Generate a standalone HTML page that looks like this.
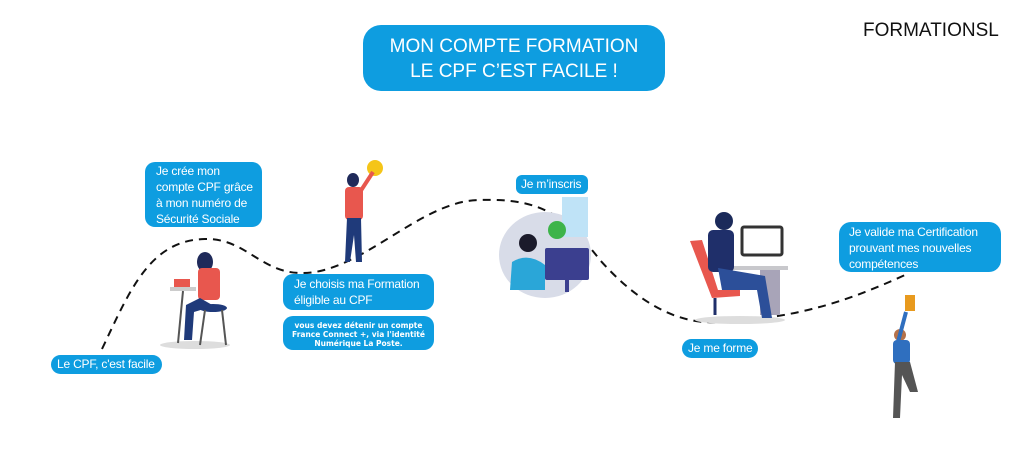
<!DOCTYPE html>
<html><head><meta charset="utf-8"><style>
body{margin:0;width:1024px;height:465px;background:#fff;position:relative;overflow:hidden;font-family:"Liberation Sans",sans-serif}
.b{position:absolute;background:#0e9de0;color:#fff;border-radius:10px;box-sizing:border-box;white-space:nowrap}
.t{font-size:12px;line-height:16px;letter-spacing:-0.2px}
</style></head><body>
<svg width="1024" height="465" style="position:absolute;left:0;top:0">
<path d="M102,349 C130,290 150,240 205,239 C245,238 260,272 300,273 C360,275 420,200 480,200 C540,198 565,215 600,260 C640,305 680,325 720,322 C800,318 850,300 905,275" fill="none" stroke="#111" stroke-width="2" stroke-dasharray="8,6"/>
<!-- woman at table -->
<ellipse cx="195" cy="345" rx="35" ry="4" fill="#ddd"/>
<rect x="170" y="287" width="26" height="4" fill="#ccc"/>
<rect x="174" y="279" width="16" height="8" fill="#e8574e"/>
<line x1="183" y1="291" x2="178" y2="343" stroke="#555" stroke-width="2"/>
<ellipse cx="213" cy="308" rx="14" ry="4" fill="#1f3a7a"/>
<line x1="205" y1="310" x2="200" y2="345" stroke="#555" stroke-width="2"/>
<line x1="222" y1="310" x2="226" y2="345" stroke="#555" stroke-width="2"/>
<ellipse cx="205" cy="262" rx="8" ry="10" fill="#1f2a5a"/>
<rect x="198" y="268" width="22" height="32" rx="4" fill="#e8574e"/>
<path d="M200,298 L186,305 L184,340 L192,340 L194,312 L214,306Z" fill="#1f3a7a"/>
<!-- woman with bulb -->
<circle cx="375" cy="168" r="8" fill="#f5c518"/>
<ellipse cx="353" cy="180" rx="6" ry="7" fill="#1f2a5a"/>
<rect x="345" y="187" width="18" height="33" rx="4" fill="#e8574e"/>
<path d="M347,218 L361,218 L362,262 L356,262 L354,235 L350,262 L345,262Z" fill="#1f3a7a"/>
<line x1="360" y1="192" x2="373" y2="172" stroke="#e8574e" stroke-width="4"/>
<!-- register blob -->
<ellipse cx="545" cy="255" rx="46" ry="43" fill="#d8dce8"/>
<rect x="562" y="197" width="26" height="40" fill="#bfe3f7"/>
<circle cx="557" cy="230" r="9" fill="#3db44a"/>
<rect x="545" y="248" width="44" height="32" rx="2" fill="#3b3f8f"/>
<rect x="565" y="280" width="4" height="12" fill="#3b3f8f"/>
<circle cx="528" cy="243" r="9" fill="#1b1b2b"/>
<path d="M510,290 L512,262 Q528,252 545,265 L545,290Z" fill="#2aa6d8"/>
<!-- man at desk -->
<ellipse cx="740" cy="320" rx="45" ry="4" fill="#ddd"/>
<rect x="742" y="227" width="40" height="28" rx="2" fill="#fff" stroke="#333" stroke-width="3"/>
<rect x="728" y="266" width="60" height="4" fill="#c8c8cc"/>
<rect x="760" y="270" width="20" height="45" fill="#a8a4b8"/>
<path d="M690,241 L702,240 L718,290 L740,290 L740,296 L712,298Z" fill="#e8574e"/>
<circle cx="724" cy="221" r="9" fill="#1b2a5a"/>
<rect x="708" y="230" width="26" height="42" rx="5" fill="#1f2f6a"/>
<path d="M718,268 L765,276 L772,318 L762,318 L757,290 L722,290Z" fill="#2c4f99"/>
<line x1="715" y1="298" x2="715" y2="315" stroke="#1f2f6a" stroke-width="3"/>
<!-- jumping man -->
<rect x="905" y="295" width="10" height="16" fill="#e89a1e"/>
<circle cx="900" cy="335" r="6" fill="#b5724a"/>
<rect x="893" y="340" width="17" height="24" rx="4" fill="#2f6fbf"/>
<path d="M895,362 L910,362 L918,392 L910,392 L902,375 L900,418 L893,418Z" fill="#555"/>
<line x1="898" y1="342" x2="906" y2="312" stroke="#2f6fbf" stroke-width="4"/>
</svg>
<div class="b" style="left:363px;top:25px;width:302px;height:66px;border-radius:18px;font-size:19px;line-height:25px;text-align:center;padding-top:9px">MON COMPTE FORMATION<br>LE CPF C’EST FACILE !</div>
<div style="position:absolute;left:863px;top:20px;font-size:19px;color:#111">FORMATIONSL</div>
<div class="b t" style="left:145px;top:162px;width:117px;height:65px;padding:1px 0 0 11px">Je crée mon<br>compte CPF grâce<br>à mon numéro de<br>Sécurité Sociale</div>
<div class="b t" style="left:283px;top:274px;width:151px;height:36px;padding:2px 0 0 11px">Je choisis ma Formation<br>éligible au CPF</div>
<div class="b" style="left:283px;top:316px;width:151px;height:34px;font-size:7.5px;line-height:9px;font-weight:bold;text-align:center;padding-top:5px;font-family:'DejaVu Sans',sans-serif">vous devez détenir un compte<br>France Connect +, via l'identité<br>Numérique La Poste.</div>
<div class="b t" style="left:51px;top:355px;width:111px;height:19px;padding:1px 0 0 6px">Le CPF, c'est facile</div>
<div class="b t" style="left:516px;top:175px;width:72px;height:19px;padding:1px 0 0 5px;border-radius:6px">Je m’inscris</div>
<div class="b t" style="left:682px;top:339px;width:76px;height:19px;padding:1px 0 0 6px">Je me forme</div>
<div class="b t" style="left:839px;top:222px;width:162px;height:50px;padding:2px 0 0 10px;border-radius:12px">Je valide ma Certification<br>prouvant mes nouvelles<br>compétences</div>
</body></html>
